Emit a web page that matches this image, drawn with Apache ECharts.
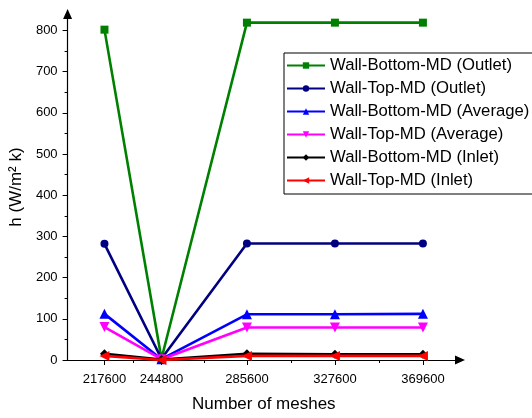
<!DOCTYPE html>
<html>
<head>
<meta charset="utf-8">
<script src="https://cdn.jsdelivr.net/npm/echarts@6/dist/echarts.min.js"></script>
<style>html,body{margin:0;padding:0;background:#fff}#c{width:532px;height:418px}</style>
</head>
<body>
<div id="c"></div>
<script>
const meshes = [217600, 244800, 285600, 327600, 369600];
const xMinorTicks = [231200, 265200, 306600, 348600];
const yMajor = [0, 100, 200, 300, 400, 500, 600, 700, 800];
const yMinor = [50, 150, 250, 350, 450, 550, 650, 750];
const seriesNames = ['Wall-Bottom-MD (Outlet)', 'Wall-Top-MD (Outlet)', 'Wall-Bottom-MD (Average)', 'Wall-Top-MD (Average)', 'Wall-Bottom-MD (Inlet)', 'Wall-Top-MD (Inlet)'];
const bottomOutlet = [802, 3, 819, 819, 819];
const topOutlet = [282, 3, 283, 283, 283];
const bottomAverage = [112, 2, 111, 111, 112];
const topAverage = [80, 2, 79, 79, 79];
const bottomInlet = [15, 1, 15, 14, 14];
const topInlet = [10, 0, 10, 10, 10];

const allValues = [bottomOutlet, topOutlet, bottomAverage, topAverage, bottomInlet, topInlet];
const colors = ['#008000', '#000080', '#0000FF', '#FF00FF', '#000000', '#FF0000'];
const symbols = ['rect', 'circle', 'triangle', 'triangle', 'diamond', 'triangle'];
const rotates = [0, 0, 0, 180, 0, 90];
const sizes = [8, 8, 10, 10, 9, 10];
const font = '"Liberation Sans", Arial, sans-serif';

const chart = echarts.init(document.getElementById('c'), null, {renderer: 'canvas'});
const axisLineStyle = {color: '#000', width: 1.2};
chart.setOption({
  animation: false,
  backgroundColor: '#fff',
  textStyle: {fontFamily: font},
  grid: {left: 62, right: 72, top: 14, bottom: 55, containLabel: false},
  legend: {
    orient: 'vertical', left: 284, top: 53,
    padding: [4, 14, 5, 2],
    itemWidth: 38, itemHeight: 8, itemGap: 6,
    backgroundColor: '#fff', borderColor: '#000', borderWidth: 1,
    textStyle: {fontFamily: font, fontSize: 16.7, color: '#000'},
    data: seriesNames
  },
  xAxis: [{
    type: 'value', position: 'bottom', min: 200000, max: 387300,
    name: 'Number of meshes', nameLocation: 'middle', nameGap: 36,
    nameTextStyle: {fontFamily: font, fontSize: 17, color: '#000'},
    axisLine: {show: true, onZero: false, lineStyle: axisLineStyle, symbol: ['none', 'triangle'], symbolSize: [9, 10]},
    axisTick: {show: true, length: 5, customValues: meshes, lineStyle: {color: '#000'}},
    axisLabel: {customValues: meshes, formatter: v => String(v), fontFamily: font, fontSize: 13, color: '#000', margin: 13},
    splitLine: {show: false}
  }, {
    type: 'value', position: 'bottom', min: 200000, max: 387300,
    axisLine: {show: false, onZero: false},
    axisTick: {show: true, length: 3, customValues: xMinorTicks, lineStyle: {color: '#000'}},
    axisLabel: {show: false},
    splitLine: {show: false}
  }],
  yAxis: [{
    type: 'value', position: 'left', min: 0, max: 840,
    name: 'h (W/m² k)', nameLocation: 'middle', nameGap: 36,
    nameTextStyle: {fontFamily: font, fontSize: 17, color: '#000'},
    axisLine: {show: true, onZero: false, lineStyle: axisLineStyle, symbol: ['none', 'triangle'], symbolSize: [9, 10]},
    axisTick: {show: true, length: 5, customValues: yMajor, lineStyle: {color: '#000'}},
    axisLabel: {customValues: yMajor, fontFamily: font, fontSize: 13, color: '#000', margin: 10},
    splitLine: {show: false}
  }, {
    type: 'value', position: 'left', min: 0, max: 840,
    axisLine: {show: false, onZero: false},
    axisTick: {show: true, length: 3, customValues: yMinor, lineStyle: {color: '#000'}},
    axisLabel: {show: false},
    splitLine: {show: false}
  }],
  series: seriesNames.map((name, i) => ({
    name: name, type: 'line', xAxisIndex: 0, yAxisIndex: 0,
    data: meshes.map((m, j) => [m, allValues[i][j]]),
    color: colors[i],
    lineStyle: {width: 2.6, color: colors[i]},
    itemStyle: {color: colors[i]},
    symbol: symbols[i], symbolRotate: rotates[i], symbolSize: sizes[i],
    showAllSymbol: true, z: 2 + i
  }))
});
</script>
</body>
</html>
